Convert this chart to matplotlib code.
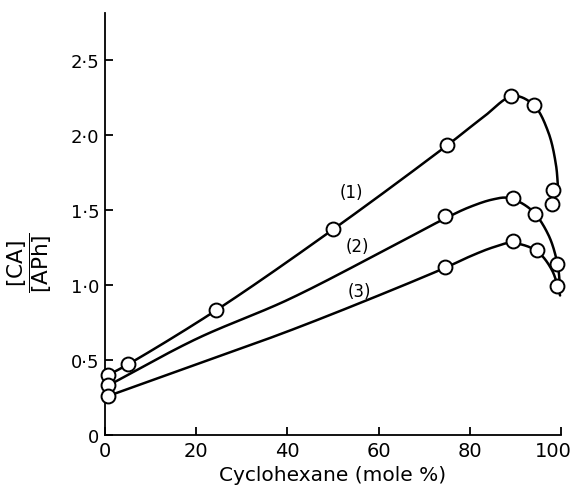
import numpy as np
import matplotlib
matplotlib.use('Agg')
import matplotlib.pyplot as plt
import matplotlib.transforms as mtransforms

plt.rcParams['font.family'] = ['DejaVu Sans']
plt.rcParams['mathtext.fontset'] = 'dejavusans'

# measured points (open circles)
s1_x = [0.7, 5, 24.3, 50, 75, 89, 94, 98.3, 98.1]
s1_y = [0.40, 0.47, 0.83, 1.37, 1.93, 2.26, 2.20, 1.63, 1.54]
s2_x = [0.7, 74.6, 89.5, 94.3, 99.1]
s2_y = [0.33, 1.46, 1.58, 1.47, 1.14]
s3_x = [0.7, 74.6, 89.5, 94.7, 99.1]
s3_y = [0.26, 1.12, 1.29, 1.23, 0.99]

# hand-drawn guide curves through the data
c1_x = [0.7, 5, 24.3, 50, 75, 83, 89.5, 94, 97.2, 98.9, 99.4]
c1_y = [0.40, 0.47, 0.83, 1.37, 1.93, 2.12, 2.26, 2.20, 2.02, 1.80, 1.62]
c2_x = [0.7, 20, 40, 60, 75, 80, 85, 88.5, 93.5, 97.3, 99.3, 99.7]
c2_y = [0.33, 0.64, 0.90, 1.21, 1.45, 1.52, 1.57, 1.58, 1.50, 1.33, 1.13, 1.02]
c3_x = [0.7, 20, 40, 60, 75, 80, 85, 89, 94.5, 98, 99.8]
c3_y = [0.26, 0.47, 0.69, 0.93, 1.12, 1.19, 1.25, 1.28, 1.23, 1.10, 0.93]

curve_labels = ['(1)', '(2)', '(3)']
label_x = [54, 55.3, 55.7]
label_y = [1.62, 1.26, 0.96]

xticks = [0, 20, 40, 60, 80, 100]
yticks = [0, 0.5, 1.0, 1.5, 2.0, 2.5]
ytick_labels = ['0', '0·5', '1·0', '1·5', '2·0', '2·5']


def catmull_rom(xs, ys, ysc=33.0, n=40):
    P = np.column_stack([np.asarray(xs, float), np.asarray(ys, float) * ysc])
    P = np.vstack([2 * P[0] - P[1], P, 2 * P[-1] - P[-2]])
    out = []
    for i in range(1, len(P) - 2):
        p0, p1, p2, p3 = P[i - 1], P[i], P[i + 1], P[i + 2]
        t0 = 0.0
        t1 = t0 + np.linalg.norm(p1 - p0) ** 0.5
        t2 = t1 + np.linalg.norm(p2 - p1) ** 0.5
        t3 = t2 + np.linalg.norm(p3 - p2) ** 0.5
        t = np.linspace(t1, t2, n)[:, None]
        A1 = (t1 - t) / (t1 - t0) * p0 + (t - t0) / (t1 - t0) * p1
        A2 = (t2 - t) / (t2 - t1) * p1 + (t - t1) / (t2 - t1) * p2
        A3 = (t3 - t) / (t3 - t2) * p2 + (t - t2) / (t3 - t2) * p3
        B1 = (t2 - t) / (t2 - t0) * A1 + (t - t0) / (t2 - t0) * A2
        B2 = (t3 - t) / (t3 - t1) * A2 + (t - t1) / (t3 - t1) * A3
        C = (t2 - t) / (t2 - t1) * B1 + (t - t1) / (t2 - t1) * B2
        out.append(C)
    C = np.vstack(out)
    return C[:, 0], C[:, 1] / ysc


fig = plt.figure(figsize=(5.74, 4.89), dpi=100)
ax = fig.add_axes([105 / 574, 53 / 489, 456 / 574, 422 / 489])

for cx, cy in [(c1_x, c1_y), (c2_x, c2_y), (c3_x, c3_y)]:
    xx, yy = catmull_rom(cx, cy)
    ax.plot(xx, yy, color='black', lw=1.8, solid_capstyle='round', clip_on=False, zorder=2)

for sx, sy in [(s1_x, s1_y), (s2_x, s2_y), (s3_x, s3_y)]:
    ax.plot(sx, sy, linestyle='none', marker='o', ms=10, mfc='white', mec='black',
            mew=1.4, clip_on=False, zorder=3)

for lab, lx, ly in zip(curve_labels, label_x, label_y):
    ax.text(lx, ly, lab, fontsize=12, ha='center', va='center')

ax.set_xlim(0, 100)
ax.set_ylim(0, 2.813)
ax.set_xticks(xticks)
ax.set_xticklabels([str(v) for v in xticks])
ax.set_yticks(yticks)
ax.set_yticklabels(ytick_labels)
ax.spines['top'].set_visible(False)
ax.spines['right'].set_visible(False)
for s in ['left', 'bottom']:
    ax.spines[s].set_linewidth(1.3)
ax.tick_params(direction='in', length=6, width=1.3, pad=4)
ax.tick_params(axis='x', labelsize=14)
ax.tick_params(axis='y', labelsize=13)

# shift the "100" label left so it stays inside the figure
last = ax.get_xticklabels()[-1]
last.set_transform(last.get_transform() + mtransforms.ScaledTranslation(-8 / 100, 0, fig.dpi_scale_trans))

ax.set_xlabel('Cyclohexane (mole %)', fontsize=14.5, labelpad=4)
fig.text(30 / 574, 1 - 263 / 489, r'$\dfrac{[\mathrm{CA}]}{[\mathrm{APh}]}$', rotation=90,
         fontsize=15.5, ha='center', va='center')

fig.savefig('out.png', dpi=100)
